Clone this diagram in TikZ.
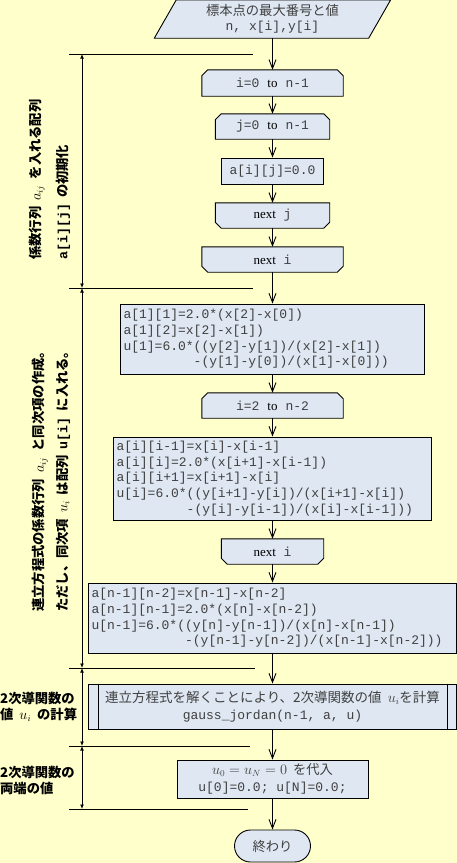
\documentclass[tikz,border=0pt]{standalone}
\usepackage{fontspec}
\setmainfont{Liberation Serif}
\setmonofont{Liberation Mono}
\newfontfamily\jp{Noto Sans CJK JP}
\usetikzlibrary{arrows.meta,backgrounds}
\definecolor{bgyellow}{HTML}{FFFFCC}
\definecolor{boxfill}{HTML}{DFE7F2}
\definecolor{txt}{HTML}{404040}
\newcommand\monof{\ttfamily\fontsize{13}{15.7}\selectfont}
\newcommand\serif[1]{{\rmfamily\color{black}#1}}
\newcommand\ind[1]{\phantom{#1}}
\newcommand\gap{\hspace{0.45em}}
\begin{document}
\begin{tikzpicture}[x=1pt,y=-1pt,
  plain/.style={inner sep=0pt, text=txt, align=center, font=\monof},
  box/.style={plain, draw=black, line width=0.9pt, fill=boxfill},
  codebox/.style={box, align=left, inner xsep=3pt, inner ysep=0pt},
  outline/.style={draw=black, line width=0.9pt, fill=boxfill},
  flow/.style={line width=0.9pt, -{Straight Barb[length=9pt,width=7pt]}},
  dim/.style={line width=0.9pt, {Latex[length=4.5pt,width=4pt]}-{Latex[length=4.5pt,width=4pt]}},
  dimline/.style={line width=0.9pt},
  lab/.style={inner sep=0pt, text=black, font=\jp\bfseries\fontsize{13.3}{16}\selectfont}
]
\begin{pgfonlayer}{background}
\fill[bgyellow] (0,0) rectangle (457,863);
\end{pgfonlayer}
\useasboundingbox (0,0) rectangle (457,863);
\def\cx{272.5}

% ---- flow nodes ----
\node[plain, minimum width=214pt, minimum height=38pt] (in) at (\cx,19)
  {{\jp\fontsize{13.3}{16}\selectfont 標本点の最大番号と値}\\[-1pt]n, x[i],y[i]};
\node[plain, minimum width=141pt, minimum height=26pt] (l1) at (\cx,83)
  {i=0\hspace{8pt}\serif{to}\hspace{8pt}n-1};
\node[plain, minimum width=114pt, minimum height=25pt] (l2) at (\cx,126.5)
  {j=0\hspace{8pt}\serif{to}\hspace{8pt}n-1};
\node[box, minimum width=102pt, minimum height=26pt] (a0) at (\cx,171) {a[i][j]=0.0};
\node[plain, minimum width=114pt, minimum height=25pt] (nj) at (\cx,215.5)
  {\serif{next} j};
\node[plain, minimum width=141pt, minimum height=25pt] (ni) at (\cx,259.5)
  {\serif{next} i};
\node[codebox, text width=298pt, minimum height=70pt] (b1) at (\cx,339)
  {a[1][1]=2.0*(x[2]-x[0])\\
   a[1][2]=x[2]-x[1])\\
   u[1]=6.0*((y[2]-y[1])/(x[2]-x[1])\\
   \ind{123456789}-(y[1]-y[0])/(x[1]-x[0]))};
\node[plain, minimum width=141pt, minimum height=25pt] (l3) at (\cx,405.5)
  {i=2\hspace{8pt}\serif{to}\hspace{8pt}n-2};
\node[codebox, text width=312pt, minimum height=83pt] (b2) at (\cx,478.5)
  {a[i][i-1]=x[i]-x[i-1]\\
   a[i][i]=2.0*(x[i+1]-x[i-1])\\
   a[i][i+1]=x[i+1]-x[i]\\
   u[i]=6.0*((y[i+1]-y[i])/(x[i+1]-x[i])\\
   \ind{123456789}-(y[i]-y[i-1])/(x[i]-x[i-1]))};
\node[plain, minimum width=102pt, minimum height=25pt] (ni2) at (\cx,551.5)
  {\serif{next} i};
\node[codebox, text width=362pt, minimum height=70pt] (b3) at (\cx,618)
  {a[n-1][n-2]=x[n-1]-x[n-2]\\
   a[n-1][n-1]=2.0*(x[n]-x[n-2])\\
   u[n-1]=6.0*((y[n]-y[n-1])/(x[n]-x[n-1])\\
   \ind{123456789012}-(y[n-1]-y[n-2])/(x[n-1]-x[n-2]))};
\node[box, minimum width=368pt, minimum height=45pt] (gj) at (\cx,706.5)
  {{\jp\fontsize{13.5}{16}\selectfont 連立方程式を解くことにより、2次導関数の値\gap\(u_i\)を計算}\\[1pt]gauss\_jordan(n-1, a, u)};
\node[box, minimum width=191pt, minimum height=38pt] (bc) at (\cx,779)
  {{\jp\fontsize{13.3}{16}\selectfont \(u_0=u_N=0\)\gap を代入}\\[1pt]u[0]=0.0; u[N]=0.0;};
\node[box, minimum width=76pt, minimum height=32pt, rounded corners=16pt] (end) at (\cx,846)
  {{\jp\fontsize{13.3}{16}\selectfont 終わり}};

% ---- outlines of special shapes ----
\begin{pgfonlayer}{background}
\draw[outline] ([xshift=-11pt]in.south west) -- ([xshift=11pt]in.north west)
  -- ([xshift=11pt]in.north east) -- ([xshift=-11pt]in.south east) -- cycle;
\foreach \n in {l1,l2,l3}{
\draw[outline] (\n.south west) -- ([yshift=-6pt]\n.north west) -- ([xshift=6pt]\n.north west)
  -- ([xshift=-6pt]\n.north east) -- ([yshift=-6pt]\n.north east) -- (\n.south east) -- cycle;}
\foreach \n in {nj,ni,ni2}{
\draw[outline] (\n.north west) -- (\n.north east) -- ([yshift=6pt]\n.south east)
  -- ([xshift=-6pt]\n.south east) -- ([xshift=6pt]\n.south west) -- ([yshift=6pt]\n.south west) -- cycle;}
\end{pgfonlayer}
\draw[line width=0.9pt] ([xshift=10pt]gj.north west) -- ([xshift=10pt]gj.south west);
\draw[line width=0.9pt] ([xshift=-10pt]gj.north east) -- ([xshift=-10pt]gj.south east);

% ---- flow connectors ----
\draw[flow] (in) -- (l1);
\draw[flow] (l1) -- (l2);
\draw[flow] (l2) -- (a0);
\draw[flow] (a0) -- (nj);
\draw[flow] (nj) -- (ni);
\draw[flow] (ni) -- (b1);
\draw[flow] (b1) -- (l3);
\draw[flow] (l3) -- (b2);
\draw[flow] (b2) -- (ni2);
\draw[flow] (ni2) -- (b3);
\draw[flow] (b3) -- (gj);
\draw[flow] (gj) -- (bc);
\draw[flow] (bc) -- (end);

% ---- dimension lines ----
\coordinate (d0) at (82,54);
\coordinate (d1) at (82,288);
\coordinate (d2) at (82,668);
\coordinate (d3) at (82,746);
\coordinate (d4) at (82,809);
\coordinate (h0a) at (69,54);  \coordinate (h0b) at (253,54);
\coordinate (h1a) at (69,288); \coordinate (h1b) at (253,288);
\coordinate (h2a) at (69,668); \coordinate (h2b) at (255,668);
\coordinate (h3a) at (69,746); \coordinate (h3b) at (250,746);
\coordinate (h4a) at (69,809); \coordinate (h4b) at (248,809);
\draw[dimline] (h0a) -- (h0b);
\draw[dimline] (h1a) -- (h1b);
\draw[dimline] (h2a) -- (h2b);
\draw[dimline] (h3a) -- (h3b);
\draw[dimline] (h4a) -- (h4b);
\draw[dim] (d0) -- (d1);
\draw[dim] (d1) -- (d2);
\draw[dim] (d2) -- (d3);
\draw[dim] (d3) -- (d4);

% ---- side labels ----
\node[lab, rotate=90, anchor=west] (t1a) at (37,260) {係数行列\gap\(a_{ij}\)\gap を入れる配列};
\node[lab, rotate=90, anchor=west] (t1b) at (63,260) {{\ttfamily\bfseries a[i][j]}\gap の初期化};
\node[lab, rotate=90, anchor=west] (t2a) at (40,612) {連立方程式の係数行列\gap\(a_{ij}\)\gap と同次項の作成。};
\node[lab, rotate=90, anchor=west] (t2b) at (63,612) {ただし、同次項\gap\(u_i\)\gap は配列\gap{\ttfamily\bfseries u[i]}\gap に入れる。};
\node[lab, anchor=west] (t3a) at (0,698) {2次導関数の};
\node[lab, anchor=west] (t3b) at (0,715) {値\gap\(u_i\)\gap の計算};
\node[lab, anchor=west] (t4a) at (0,772) {2次導関数の};
\node[lab, anchor=west] (t4b) at (0,788) {両端の値};
\end{tikzpicture}
\end{document}
